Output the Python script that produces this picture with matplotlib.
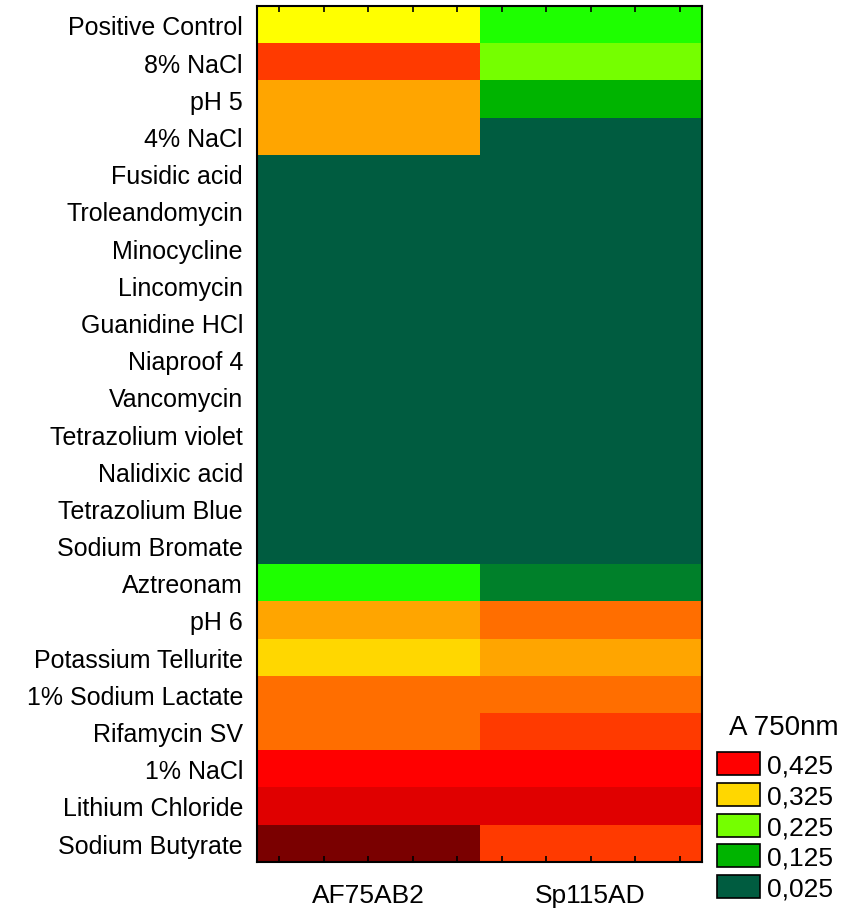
import numpy as np
import matplotlib.pyplot as plt
from matplotlib.colors import ListedColormap, BoundaryNorm
from matplotlib.patches import Patch

plt.rcParams['font.family'] = ['Liberation Sans', 'DejaVu Sans']

# condiciones (de arriba a abajo)
conditions = ['Positive Control', '8% NaCl', 'pH 5', '4% NaCl', 'Fusidic acid',
              'Troleandomycin', 'Minocycline', 'Lincomycin', 'Guanidine HCl',
              'Niaproof 4', 'Vancomycin', 'Tetrazolium violet', 'Nalidixic acid',
              'Tetrazolium Blue', 'Sodium Bromate', 'Aztreonam', 'pH 6',
              'Potassium Tellurite', '1% Sodium Lactate', 'Rifamycin SV',
              '1% NaCl', 'Lithium Chloride', 'Sodium Butyrate']
strains = ['AF75AB2', 'Sp115AD']

# absorbancia A750 estimada para cada cepa
af75ab2 = [0.28, 0.40, 0.35, 0.35, 0.02, 0.02, 0.02, 0.02, 0.02, 0.02, 0.02, 0.02,
           0.02, 0.02, 0.02, 0.18, 0.35, 0.325, 0.375, 0.375, 0.425, 0.45, 0.50]
sp115ad = [0.18, 0.225, 0.125, 0.02, 0.02, 0.02, 0.02, 0.02, 0.02, 0.02, 0.02, 0.02,
           0.02, 0.02, 0.02, 0.075, 0.375, 0.35, 0.375, 0.40, 0.425, 0.45, 0.40]

legend_levels = [0.425, 0.325, 0.225, 0.125, 0.025]
legend_labels = ['0,425', '0,325', '0,225', '0,125', '0,025']

# escala de colores discreta
colors = ['#005C40', '#00802A', '#00B400', '#1EFF00', '#75FF00', '#FFFF00',
          '#FFD700', '#FFA500', '#FF6E00', '#FF3A00', '#FF0000', '#E00000', '#7A0000']
bounds = [0, 0.05, 0.1, 0.15, 0.2, 0.25, 0.3, 0.34, 0.36, 0.39, 0.41, 0.44, 0.47, 0.55]
cmap = ListedColormap(colors)
norm = BoundaryNorm(bounds, cmap.N)

data = np.column_stack([af75ab2, sp115ad])

fig = plt.figure(figsize=(8.56, 9.12), dpi=100)
ax = fig.add_axes([0.300, 0.054, 0.520, 0.938])
ax.imshow(data, cmap=cmap, norm=norm, aspect='auto', interpolation='nearest')

ax.set_xticks(range(len(strains)))
ax.set_xticklabels(strains, fontsize=19)
ax.set_xticks([c + d for c in range(len(strains)) for d in (-0.4, -0.2, 0.2, 0.4)], minor=True)
ax.set_yticks(range(len(conditions)))
ax.set_yticklabels(conditions, fontsize=18)
ax.set_yticks(range(1, len(conditions), 2), minor=True)

ax.tick_params(axis='x', which='both', direction='in', top=True, bottom=True,
               length=4, width=1.2, pad=15)
ax.tick_params(axis='y', which='major', length=0, pad=10)
ax.tick_params(axis='y', which='minor', direction='in', left=True, right=True,
               length=4, width=1.2)
for s in ax.spines.values():
    s.set_linewidth(1.5)

# leyenda
fig.text(0.916, 0.202, 'A 750nm', fontsize=20, ha='center', va='center')
handles = [Patch(facecolor=cmap(norm(v)), edgecolor='black', linewidth=1.2)
           for v in legend_levels]
leg = fig.legend(handles, legend_labels, loc='upper left',
                 bbox_to_anchor=(0.838, 0.174), frameon=False, fontsize=19,
                 handlelength=1.6, handleheight=0.95,
                 handletextpad=0.3, labelspacing=0.2, borderaxespad=0,
                 borderpad=0)

fig.savefig('out.png', dpi=100)
